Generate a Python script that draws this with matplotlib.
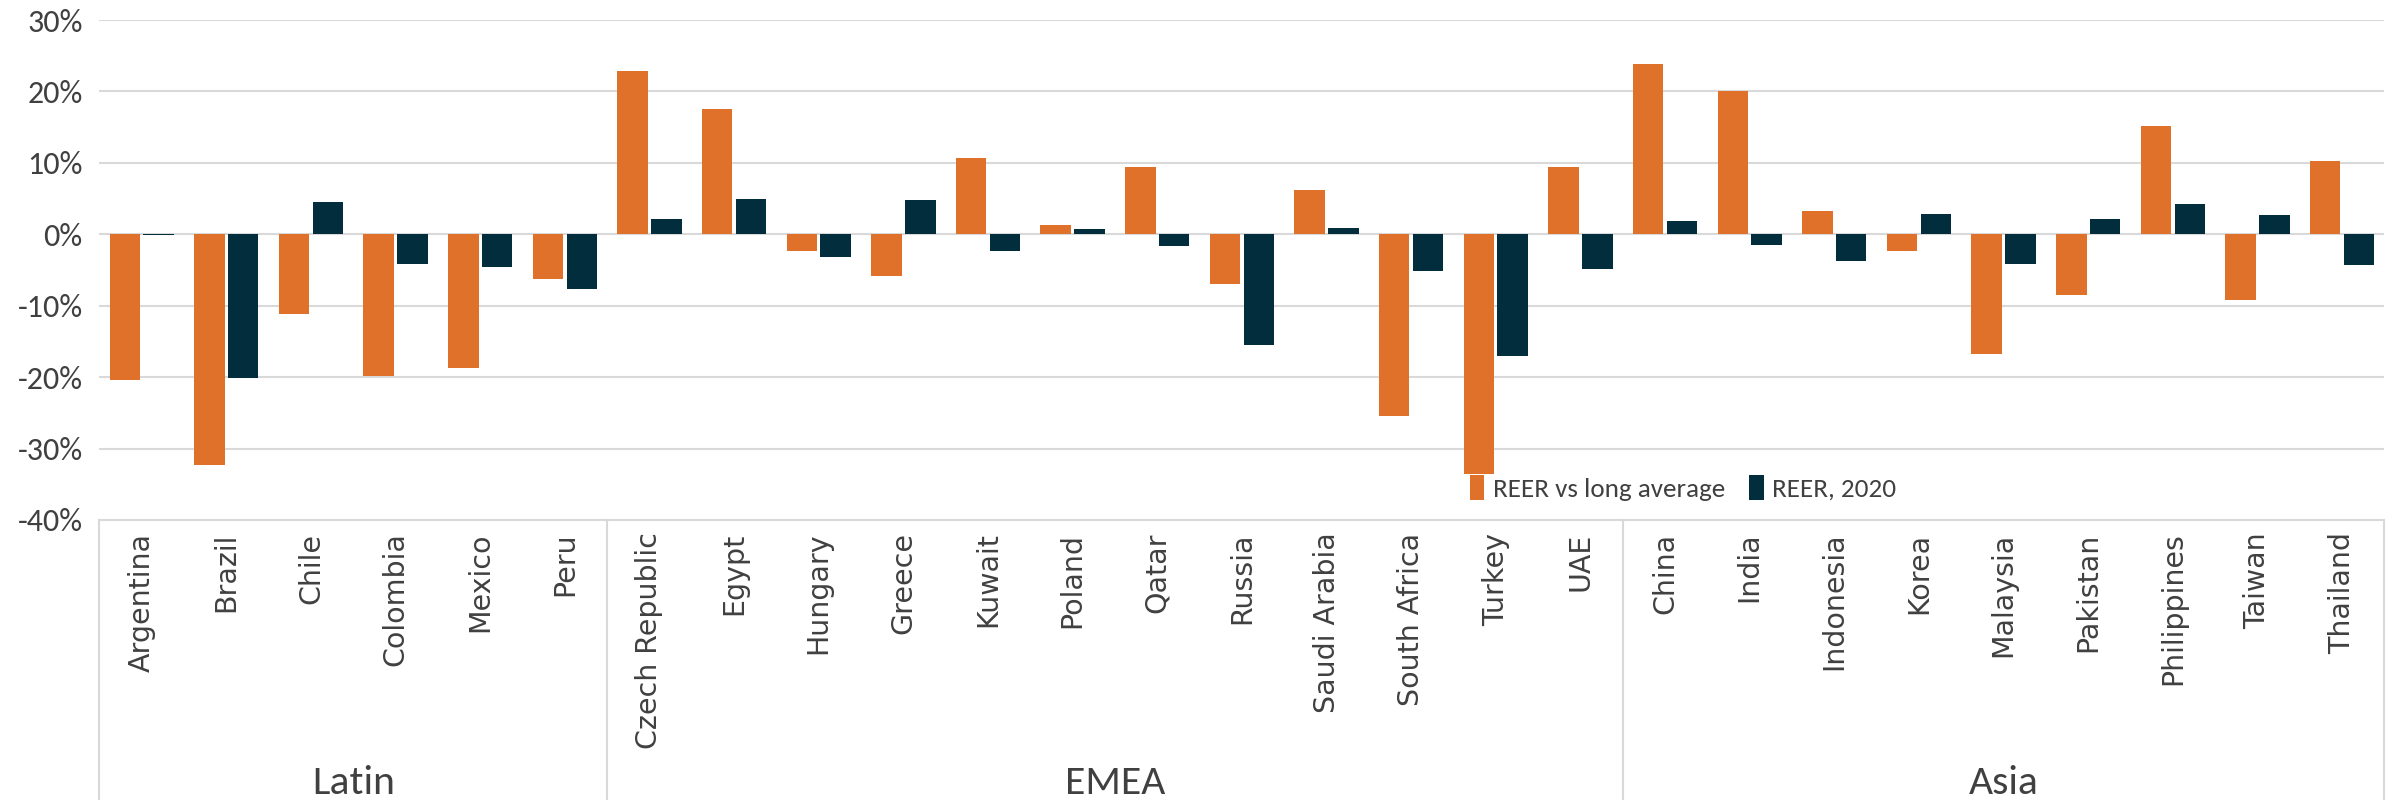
import matplotlib

matplotlib.use("Agg")
import matplotlib.pyplot as plt
import matplotlib.transforms as mtransforms
import numpy as np

_names = {f.name for f in matplotlib.font_manager.fontManager.ttflist}
LABEL_FONT = "DejaVu Sans"
for _font in ["Carlito", "Lato", "Open Sans"]:
    if _font in _names:
        LABEL_FONT = _font
        break

ORANGE = "#E0712A"
NAVY = "#012D3D"
GRID = "#D9D9D9"
TEXT = "#404040"

regions = ["Latin", "EMEA", "Asia"]
region_sizes = [6, 12, 9]
countries = [
    "Argentina", "Brazil", "Chile", "Colombia", "Mexico", "Peru",
    "Czech Republic", "Egypt", "Hungary", "Greece", "Kuwait", "Poland",
    "Qatar", "Russia", "Saudi Arabia", "South Africa", "Turkey", "UAE",
    "China", "India", "Indonesia", "Korea", "Malaysia", "Pakistan",
    "Philippines", "Taiwan", "Thailand",
]
reer_vs_avg = [
    -20.4, -32.3, -11.1, -19.8, -18.7, -6.3,
    22.8, 17.6, -2.4, -5.8, 10.7, 1.3,
    9.4, -7.0, 6.2, -25.4, -33.6, 9.4,
    23.9, 20.1, 3.3, -2.4, -16.7, -8.5,
    15.2, -9.2, 10.2,
]
reer_2020 = [
    -0.05, -20.1, 4.5, -4.1, -4.6, -7.6,
    2.1, 5.0, -3.2, 4.8, -2.4, 0.75,
    -1.7, -15.5, 0.9, -5.1, -17.1, -4.9,
    1.8, -1.5, -3.8, 2.8, -4.1, 2.2,
    4.3, 2.7, -4.3,
]

fig = plt.figure(figsize=(23.94, 8), dpi=100)
ax = fig.add_axes([0.0415, 0.35, 0.9545, 0.625])

x = np.arange(len(countries))
w = 0.36
ax.bar(x - 0.2, reer_vs_avg, width=w, color=ORANGE, label="REER vs long average", zorder=3)
ax.bar(x + 0.2, reer_2020, width=w, color=NAVY, label="REER, 2020", zorder=3)

ax.set_xlim(-0.5, len(countries) - 0.5)
ax.set_ylim(-40, 30)
ax.set_yticks(np.arange(-40, 31, 10))
ax.set_yticklabels([f"{v}%" for v in range(-40, 31, 10)], fontsize=23,
                   family=LABEL_FONT, color=TEXT)
ax.yaxis.grid(True, color=GRID, linewidth=1.5, zorder=0)
ax.set_axisbelow(True)
for s in ["top", "right", "left"]:
    ax.spines[s].set_visible(False)
ax.spines["bottom"].set_color(GRID)
ax.spines["bottom"].set_linewidth(1.5)
ax.tick_params(axis="y", length=0, pad=12)
ax.tick_params(axis="x", length=0, pad=9)

ax.set_xticks(x)
ax.set_xticklabels(countries, rotation=90, va="top", ha="center",
                   fontsize=20.5, family="DejaVu Sans", color=TEXT)

# category boxes under the axis
trans = mtransforms.blended_transform_factory(ax.transData, ax.transAxes)
bounds = np.concatenate([[0], np.cumsum(region_sizes)]) - 0.5
for b in bounds:
    ax.plot([b, b], [0, -0.57], transform=trans, color=GRID, linewidth=1.5,
            clip_on=False)
for name, lo, hi in zip(regions, bounds[:-1], bounds[1:]):
    ax.text((lo + hi) / 2, -0.525, name, transform=trans, ha="center", va="center",
            fontsize=30, family=LABEL_FONT, color=TEXT)

ax.legend(loc="center", bbox_to_anchor=(0.693, 0.064), ncol=2, frameon=False,
          prop={"family": LABEL_FONT, "size": 19.5}, labelcolor=TEXT,
          handlelength=0.55, handleheight=1.0, handletextpad=0.3, columnspacing=0.9)

fig.savefig("out.png", dpi=100)
plt.close(fig)
